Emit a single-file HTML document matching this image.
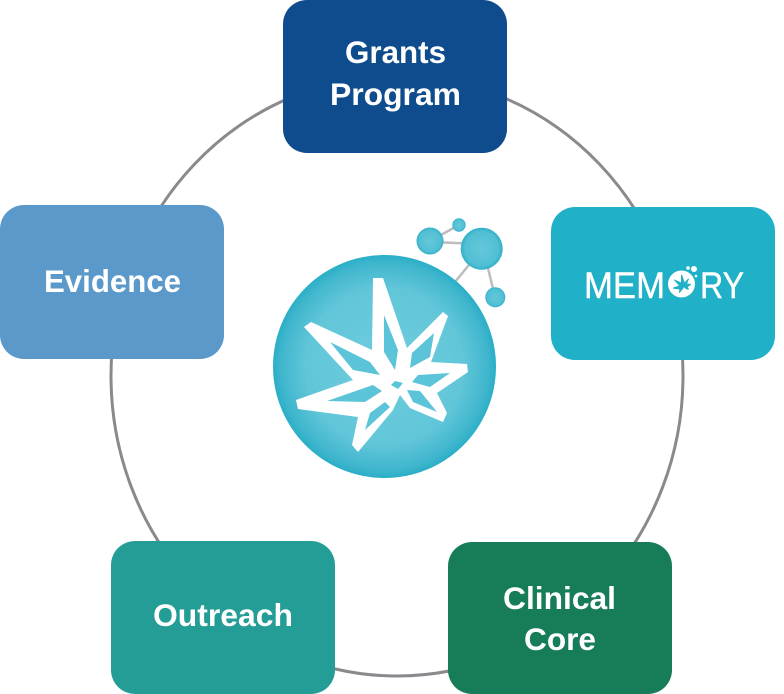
<!DOCTYPE html>
<html><head><meta charset="utf-8"><style>
html,body{margin:0;padding:0;background:#fff}
svg{display:block}
text{font-family:"Liberation Sans",sans-serif;font-weight:700;font-size:31.5px;fill:#fff}
</style></head><body>
<svg width="784" height="694" viewBox="0 0 784 694" xmlns="http://www.w3.org/2000/svg">
<defs>
<radialGradient id="g" cx="50%" cy="50%" r="50%">
<stop offset="0" stop-color="#6ccddd"/><stop offset=".7" stop-color="#62c6d9"/><stop offset=".93" stop-color="#3fb6cd"/><stop offset="1" stop-color="#2aaec7"/>
</radialGradient>
<radialGradient id="g2" cx="50%" cy="50%" r="50%">
<stop offset="0" stop-color="#64c8da"/><stop offset=".8" stop-color="#52bfd4"/><stop offset="1" stop-color="#30b0c8"/>
</radialGradient>
</defs>
<ellipse cx="397" cy="376" rx="286" ry="300" fill="none" stroke="#8a8a8e" stroke-width="3"/>
<rect x="283" y="0" width="224" height="153" rx="24" fill="#0f4c8e"/>
<rect x="0" y="205" width="224" height="154" rx="24" fill="#5a99c9"/>
<rect x="551" y="207" width="224" height="153" rx="24" fill="#20b0c8"/>
<rect x="111" y="541" width="224" height="153" rx="24" fill="#249d97"/>
<rect x="448" y="542" width="224" height="152" rx="24" fill="#177c58"/>
<text x="345" y="63" textLength="101" lengthAdjust="spacingAndGlyphs">Grants</text>
<text x="330" y="105" textLength="131" lengthAdjust="spacingAndGlyphs">Program</text>
<text x="44" y="292" textLength="137" lengthAdjust="spacingAndGlyphs">Evidence</text>
<text x="153" y="626" textLength="140" lengthAdjust="spacingAndGlyphs">Outreach</text>
<text x="503" y="609" textLength="113" lengthAdjust="spacingAndGlyphs">Clinical</text>
<text x="524" y="650" textLength="72" lengthAdjust="spacingAndGlyphs">Core</text>
<text x="584" y="298" textLength="81" lengthAdjust="spacingAndGlyphs" style="font-weight:400;font-size:37px;stroke:#fff;stroke-width:.4">MEM</text>
<text x="700" y="298" textLength="44" lengthAdjust="spacingAndGlyphs" style="font-weight:400;font-size:37px;stroke:#fff;stroke-width:.4">RY</text>
<circle cx="681.5" cy="284" r="13.5" fill="#fff"/>
<circle cx="694" cy="269" r="3" fill="#fff"/><circle cx="688" cy="268" r="1.8" fill="#fff"/><circle cx="696" cy="276" r="1.3" fill="#fff"/>
<g transform="translate(682 284) scale(.105) translate(-382 -365)">
<path fill="#20b0c8" d="M373 278L383 278L407 348L443 312L448 316L431 362L467 364L468 372L437 393L447 413L443 422L410 408L400 395L393 410L358 452L352 445L358 417L298 409L296 400L353 380L304 327L311 322L372 350Z"/>
</g>
<g stroke="#bdbdbd" stroke-width="2.5" fill="none">
<line x1="430" y1="241" x2="459" y2="225"/>
<line x1="430" y1="242" x2="482" y2="244"/>
<line x1="482" y1="249" x2="455" y2="282"/>
<line x1="486" y1="260" x2="495" y2="297"/>
</g>
<circle cx="430" cy="241" r="13.5" fill="url(#g2)"/>
<circle cx="459" cy="225" r="6.7" fill="url(#g2)"/>
<circle cx="481.7" cy="248.7" r="21" fill="url(#g2)"/>
<circle cx="495.3" cy="297.3" r="10" fill="url(#g2)"/>
<circle cx="384.5" cy="366.5" r="111.5" fill="url(#g)"/>
<path fill="#fff" d="M373 278L383 278L407 348L443 312L448 316L431 362L467 364L468 372L437 393L447 413L443 422L410 408L400 395L393 410L358 452L352 445L358 417L298 409L296 400L353 380L304 327L311 322L372 350Z"/>
<g fill="#5cc4d8">
<path d="M384 315L398 350L395 370L384 352Z"/>
<path d="M434 333L430 357L410 368L412 353Z"/>
<path d="M450 373L430 387L412 382L418 375Z"/>
<path d="M407 390L420 391L437 412L413 402Z"/>
<path d="M385 402L390 407L365 430L370 413Z"/>
<path d="M373 385L382 391L365 402L327 401Z"/>
<path d="M330 342L370 362L380 375L353 370Z"/>
<path d="M395 381L403 383L398 389L391 385Z"/>
</g>
</svg>
</body></html>
